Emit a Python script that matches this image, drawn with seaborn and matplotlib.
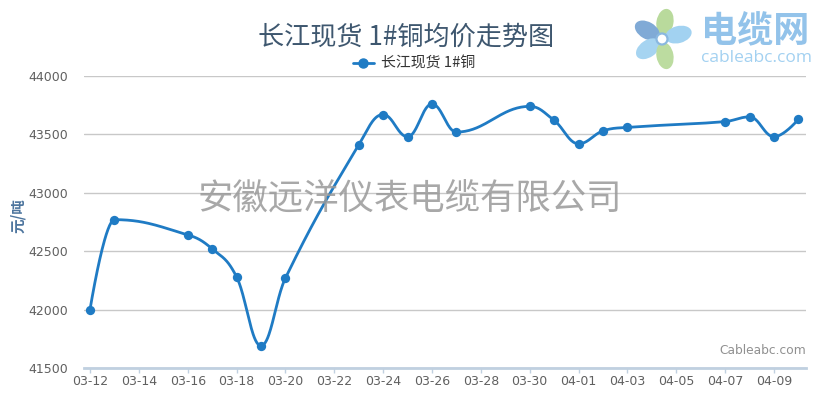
import numpy as np
import pandas as pd
import matplotlib
matplotlib.use("Agg")
import matplotlib.pyplot as plt
import matplotlib.dates as mdates
from matplotlib.lines import Line2D
from matplotlib.patches import Ellipse, Circle
import seaborn as sns

# Yangtze spot copper (No.1) average price, 2015
dates = ["03-12", "03-13", "03-16", "03-17", "03-18", "03-19", "03-20",
         "03-23", "03-24", "03-25", "03-26", "03-27", "03-30", "03-31",
         "04-01", "04-02", "04-03", "04-07", "04-08", "04-09", "04-10"]
prices = [42000, 42770, 42640, 42520, 42280, 41690, 42270,
          43410, 43670, 43480, 43760, 43520, 43740, 43620,
          43420, 43530, 43560, 43610, 43650, 43480, 43630]
y_ticks = [41500, 42000, 42500, 43000, 43500, 44000]
x_tick_labels = ["03-12", "03-14", "03-16", "03-18", "03-20", "03-22", "03-24", "03-26",
                 "03-28", "03-30", "04-01", "04-03", "04-05", "04-07", "04-09"]

title = "长江现货 1#铜均价走势图"
series_name = "长江现货 1#铜"
y_label = "元/吨"
watermark = "安徽远洋仪表电缆有限公司"
credit = "Cableabc.com"

LINE = "#1f7bc4"

sns.set_theme(style="white")
plt.rcParams["font.family"] = ["Noto Sans CJK SC", "DejaVu Sans"]


def spline_path(xs, ys, smoothing=1.5, n=40):
    """Smooth curve through the points using collinear Bezier control points."""
    xs = np.asarray(xs, float)
    ys = np.asarray(ys, float)
    m = len(xs)
    lcx, lcy = xs.copy(), ys.copy()
    rcx, rcy = xs.copy(), ys.copy()
    denom = smoothing + 1
    for i in range(1, m - 1):
        px, py = xs[i], ys[i]
        lx, ly, nx, ny = xs[i - 1], ys[i - 1], xs[i + 1], ys[i + 1]
        lcx_, lcy_ = (smoothing * px + lx) / denom, (smoothing * py + ly) / denom
        rcx_, rcy_ = (smoothing * px + nx) / denom, (smoothing * py + ny) / denom
        corr = (rcy_ - lcy_) * (rcx_ - px) / (rcx_ - lcx_) + py - rcy_
        lcy_ += corr
        rcy_ += corr
        if lcy_ > ly and lcy_ > py:
            lcy_ = max(ly, py)
            rcy_ = 2 * py - lcy_
        elif lcy_ < ly and lcy_ < py:
            lcy_ = min(ly, py)
            rcy_ = 2 * py - lcy_
        if rcy_ > ny and rcy_ > py:
            rcy_ = max(ny, py)
            lcy_ = 2 * py - rcy_
        elif rcy_ < ny and rcy_ < py:
            rcy_ = min(ny, py)
            lcy_ = 2 * py - rcy_
        lcx[i], lcy[i], rcx[i], rcy[i] = lcx_, lcy_, rcx_, rcy_
    t = np.linspace(0, 1, n)[:, None]
    out_x, out_y = [xs[0]], [ys[0]]
    for i in range(m - 1):
        P = np.array([[xs[i], ys[i]], [rcx[i], rcy[i]],
                      [lcx[i + 1], lcy[i + 1]], [xs[i + 1], ys[i + 1]]])
        B = ((1 - t) ** 3) * P[0] + 3 * ((1 - t) ** 2) * t * P[1] \
            + 3 * (1 - t) * t ** 2 * P[2] + t ** 3 * P[3]
        out_x.extend(B[1:, 0])
        out_y.extend(B[1:, 1])
    return np.array(out_x), np.array(out_y)


day = pd.to_datetime(["2015-" + d for d in dates])
xnum = mdates.date2num(day)
df = pd.DataFrame({"date": xnum, "price": prices})
cx, cy = spline_path(df["date"], df["price"])
curve = pd.DataFrame({"date": cx, "price": cy})

W, H = 823, 399
fig = plt.figure(figsize=(W / 100, H / 100), dpi=100)
left, right, top, bottom = 84, 806, 76, 368
ax = fig.add_axes([left / W, 1 - bottom / H, (right - left) / W, (bottom - top) / H])

sns.lineplot(data=curve, x="date", y="price", sort=False, estimator=None,
             color=LINE, linewidth=2.0, ax=ax, zorder=3)
sns.scatterplot(data=df, x="date", y="price", color=LINE, s=45,
                edgecolor=LINE, linewidth=0, ax=ax, zorder=4)

x0 = xnum[0]
ax.set_xlim(x0 - 0.246, x0 + 29.31)
ax.set_ylim(y_ticks[0], y_ticks[-1])
ax.set_yticks(y_ticks)
ax.set_yticklabels([str(v) for v in y_ticks])
tick_pos = mdates.date2num(pd.to_datetime(["2015-" + d for d in x_tick_labels]))
ax.set_xticks(tick_pos)
ax.set_xticklabels(x_tick_labels)
ax.set_xlabel("")
ax.set_ylabel("")

ax.grid(axis="y", color="#c8c8c8", linewidth=1.0)
ax.grid(axis="x", visible=False)
ax.set_axisbelow(True)
for s in ["top", "right", "left"]:
    ax.spines[s].set_visible(False)
ax.spines["bottom"].set_color("#c0d0e0")
ax.spines["bottom"].set_linewidth(2.0)
ax.tick_params(axis="x", which="major", bottom=True, length=3.6, width=1,
               color="#c0d0e0", pad=1.5, labelsize=9, labelcolor="#606060")
ax.tick_params(axis="y", left=False, pad=5.5, labelsize=9, labelcolor="#606060")
for lab in ax.get_xticklabels() + ax.get_yticklabels():
    lab.set_fontfamily("DejaVu Sans")

# title, axis title, legend
fig.text(406 / W, 1 - 37 / H, title, ha="center", va="center",
         fontsize=18.8, color="#3e576f")
fig.text(18 / W, 1 - 216 / H, y_label, ha="center", va="center", rotation=90,
         fontsize=10.5, fontweight="bold", color="#4d759e")
handle = Line2D([], [], color=LINE, linewidth=2, marker="o", markersize=6.5)
fig.legend([handle], [series_name], loc="center", bbox_to_anchor=(414 / W, 1 - 64 / H),
           frameon=False, fontsize=10.7, handlelength=1.4, handletextpad=0.5,
           labelcolor="#333333")

# company mark across the plot
fig.text(410 / W, 1 - 198 / H, watermark, ha="center", va="center",
         fontsize=25.5, color="#999999", alpha=0.85, zorder=10)
fig.text(806 / W, 1 - 350 / H, credit, ha="right", va="center",
         fontsize=8.8, color="#909090", family="DejaVu Sans")

# site logo: petals and name
lg = fig.add_axes([628 / W, 1 - 74 / H, 68 / W, 70 / H])
lg.set_xlim(-34, 34)
lg.set_ylim(-35, 35)
lg.set_aspect("equal")
lg.axis("off")
petals = [(80, "#b9da9c"), (150, "#80aad6"), (15, "#a2d2f1"),
          (215, "#a6d4f1"), (280, "#bcdca0")]
for ang, col in petals:
    a = np.deg2rad(ang)
    lg.add_patch(Ellipse((17 * np.cos(a), 17 * np.sin(a)), 27, 17, angle=ang,
                         facecolor=col, edgecolor="none"))
lg.add_patch(Circle((0, 0), 5.5, facecolor="white", edgecolor="#8ab8e0", linewidth=1.6))
fig.text(755 / W, 1 - 31 / H, "电缆网", ha="center", va="center",
         fontsize=26, fontweight="bold", color="#93c3ea")
fig.text(756 / W, 1 - 58 / H, "cableabc.com", ha="center", va="center",
         fontsize=12.5, color="#a3d1f1", family="Open Sans")

fig.savefig("out.png", dpi=100)
